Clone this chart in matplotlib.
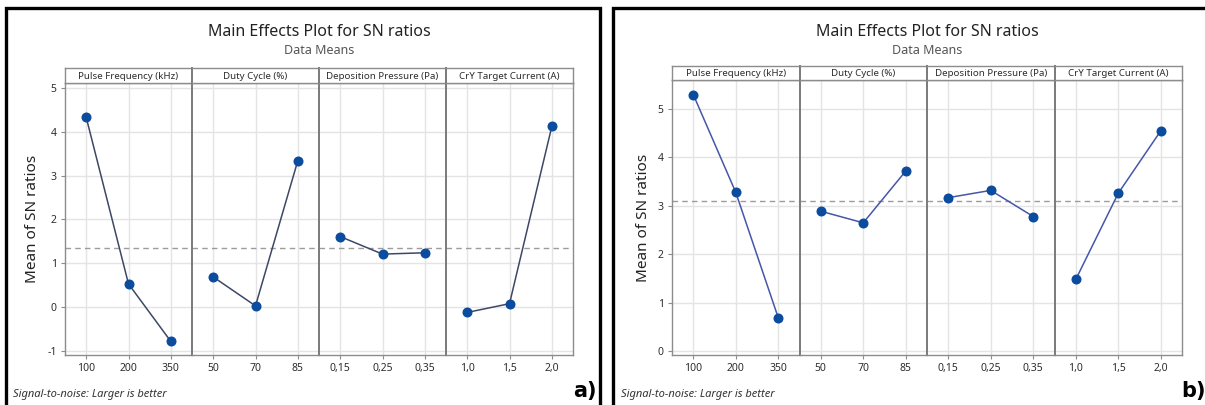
import numpy as np
import matplotlib
matplotlib.use("Agg")
import matplotlib.pyplot as plt
from matplotlib.patches import Rectangle

plt.rcParams['font.family'] = ['Noto Sans', 'DejaVu Sans']

# Factors and their levels
factors = ["Pulse Frequency (kHz)", "Duty Cycle (%)",
           "Deposition Pressure (Pa)", "CrY Target Current (A)"]
level_labels = [["100", "200", "350"],
                ["50", "70", "85"],
                ["0,15", "0,25", "0,35"],
                ["1,0", "1,5", "2,0"]]

# Mean of SN ratios per level, case a)
sn_a_pulse = [4.33, 0.53, -0.78]
sn_a_duty = [0.69, 0.03, 3.34]
sn_a_press = [1.61, 1.21, 1.24]
sn_a_current = [-0.12, 0.08, 4.12]

# Mean of SN ratios per level, case b)
sn_b_pulse = [5.30, 3.28, 0.69]
sn_b_duty = [2.89, 2.65, 3.72]
sn_b_press = [3.17, 3.32, 2.78]
sn_b_current = [1.48, 3.26, 4.55]

W, H = 1205, 405
fig = plt.figure(figsize=(W / 100, H / 100), dpi=100)

GRID = '#e4e4e4'
FRAME = '#8c8c8c'
DIVIDER = '#7a7a7a'
MARKER = '#0b4c9e'
TEXT = '#2e2e2e'


def fx(px):
    return px / W


def fy(py):
    return 1 - py / H


def draw_panel(values, left, right, strip_top, strip_bot, bottom, ylim, yticks,
               line_color):
    n = len(values)
    fw = (right - left) / n
    grand_mean = np.mean([np.mean(v) for v in values])
    for i, (name, labels, vals) in enumerate(zip(factors, level_labels, values)):
        x0 = left + i * fw
        ax = fig.add_axes([fx(x0), fy(bottom), fx(fw), (bottom - strip_bot) / H])
        xs = np.arange(1, len(vals) + 1)
        ax.axhline(grand_mean, color='#9c9c9c', lw=1.0, ls=(0, (4, 3)), zorder=2)
        ax.plot(xs, vals, color=line_color, lw=1.1, zorder=3)
        ax.plot(xs, vals, 'o', color=MARKER, ms=6.2, zorder=4)
        ax.set_xlim(0.5, len(vals) + 0.5)
        ax.set_ylim(*ylim)
        ax.set_xticks(xs)
        ax.set_xticklabels(labels, fontsize=7.5, color=TEXT)
        ax.set_yticks(yticks)
        ax.grid(True, color=GRID, lw=1.0, zorder=0)
        ax.set_axisbelow(True)
        ax.tick_params(axis='both', length=3, width=0.8, color=FRAME, pad=3)
        for s in ax.spines.values():
            s.set_color(FRAME)
            s.set_linewidth(1.0)
        if i == 0:
            ax.set_yticklabels([f"{t:g}" for t in yticks], fontsize=7.5,
                               color=TEXT)
            ax.set_ylabel("Mean of SN ratios", fontsize=11, color='#222222',
                          labelpad=5)
        else:
            ax.tick_params(axis='y', left=False, labelleft=False)
            ax.spines['left'].set_color(DIVIDER)
            ax.spines['left'].set_linewidth(1.4)
        if i < n - 1:
            ax.spines['right'].set_visible(False)

        # strip with factor name
        sax = fig.add_axes([fx(x0), fy(strip_bot), fx(fw), (strip_bot - strip_top) / H])
        sax.set_xticks([])
        sax.set_yticks([])
        for s in sax.spines.values():
            s.set_color(FRAME)
            s.set_linewidth(1.0)
        if i > 0:
            sax.spines['left'].set_color(DIVIDER)
            sax.spines['left'].set_linewidth(1.4)
        if i < n - 1:
            sax.spines['right'].set_visible(False)
        sax.text(0.5, 0.45, name, ha='center', va='center', fontsize=7,
                 color=TEXT, transform=sax.transAxes)

    cx = (left + right) / 2
    fig.text(fx(cx), fy(32), "Main Effects Plot for SN ratios", ha='center',
             va='center', fontsize=11.5, color='#222222')
    fig.text(fx(cx), fy(50), "Data Means", ha='center', va='center',
             fontsize=9, color='#555555')


# Panel a)
draw_panel([sn_a_pulse, sn_a_duty, sn_a_press, sn_a_current],
           65, 573, 68, 83, 355, (-1.09, 5.11), [-1, 0, 1, 2, 3, 4, 5],
           '#3d4866')
# Panel b)
draw_panel([sn_b_pulse, sn_b_duty, sn_b_press, sn_b_current],
           672, 1182, 66, 80, 355, (-0.08, 5.6), [0, 1, 2, 3, 4, 5],
           '#4656a8')

# Footers and panel tags
footer = "Signal-to-noise: Larger is better"
for x in (13, 621):
    fig.text(fx(x), fy(394), footer, ha='left', va='center', fontsize=8,
             style='italic', color='#333333')
fig.text(fx(597), fy(391), "a)", ha='right', va='center', fontsize=15,
         fontweight='bold', family=['DejaVu Sans'], color='black')
fig.text(fx(1206), fy(391), "b)", ha='right', va='center', fontsize=15,
         fontweight='bold', family=['DejaVu Sans'], color='black')

# Black frames around both panels
fig.add_artist(Rectangle((fx(6), fy(420)), fx(594), (420 - 8) / H,
                         transform=fig.transFigure, fill=False, ec='black',
                         lw=2.4, clip_on=False))
fig.add_artist(Rectangle((fx(613), fy(420)), fx(620), (420 - 8) / H,
                         transform=fig.transFigure, fill=False, ec='black',
                         lw=2.4, clip_on=False))

fig.savefig("out.png", dpi=100)
